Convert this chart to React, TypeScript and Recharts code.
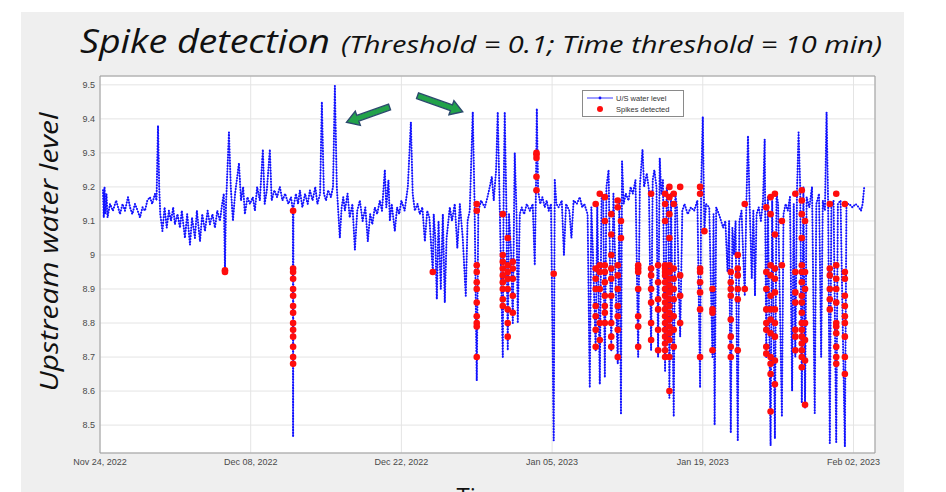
import React from "react"
import {
  ComposedChart,
  Line,
  Scatter,
  XAxis,
  YAxis,
  CartesianGrid,
  ReferenceLine,
  ReferenceArea,
  Legend,
} from "recharts"

// x = days since Nov 24, 2022 ; y = upstream water level
const LEVEL_NOV: [number, number][] = [
  [0.28, 9.19], [0.35, 9.11], [0.42, 9.2], [0.5, 9.12], [0.6, 9.18], [0.7, 9.11], [0.93, 9.15],
  [1.2, 9.13], [1.5, 9.16], [1.86, 9.12], [2.1, 9.15], [2.32, 9.13], [2.6, 9.17], [2.79, 9.14],
  [3.0, 9.12], [3.25, 9.15], [3.5, 9.13], [3.71, 9.11], [3.95, 9.14], [4.18, 9.13], [4.4, 9.16],
  [4.64, 9.17], [4.85, 9.15], [5.11, 9.18], [5.25, 9.16], [5.39, 9.38], [5.5, 9.2], [5.6, 9.12],
  [5.8, 9.07], [6.0, 9.14], [6.2, 9.08], [6.4, 9.13], [6.6, 9.1], [6.8, 9.14], [6.96, 9.09],
]

const LEVEL_DEC_A: [number, number][] = [
  [7.2, 9.12], [7.43, 9.08], [7.6, 9.13], [7.89, 9.05], [8.1, 9.12], [8.36, 9.03], [8.55, 9.11],
  [8.82, 9.05], [9.0, 9.13], [9.29, 9.04], [9.5, 9.12], [9.75, 9.07], [10.0, 9.13], [10.21, 9.09],
  [10.45, 9.12], [10.68, 9.08], [10.9, 9.13], [11.14, 9.1], [11.35, 9.15], [11.5, 9.18],
  [11.61, 8.955], [11.7, 9.14], [11.98, 9.36], [12.15, 9.2], [12.35, 9.1], [12.55, 9.18],
  [12.75, 9.23], [12.91, 9.27], [13.1, 9.16], [13.3, 9.2], [13.46, 9.12], [13.7, 9.17], [13.93, 9.15],
]

const LEVEL_DEC_B: [number, number][] = [
  [14.2, 9.17], [14.39, 9.13], [14.6, 9.2], [14.85, 9.16], [15.13, 9.31], [15.3, 9.15], [15.5, 9.19],
  [15.78, 9.31], [15.95, 9.16], [16.2, 9.19], [16.45, 9.17], [16.71, 9.2], [16.95, 9.16], [17.2, 9.18],
  [17.5, 9.15], [17.75, 9.17], [17.92, 9.13], [17.94, 8.465], [17.97, 9.14], [18.2, 9.18], [18.4, 9.15],
  [18.57, 9.19], [18.8, 9.14], [19.05, 9.18], [19.3, 9.15], [19.5, 9.19], [19.75, 9.16], [20.0, 9.2],
  [20.2, 9.15], [20.45, 9.18], [20.61, 9.45], [20.8, 9.18], [21.0, 9.16], [21.2, 9.19], [21.45, 9.17],
  [21.65, 9.2], [21.82, 9.497], [22.0, 9.2], [22.15, 9.12], [22.28, 9.05], [22.45, 9.14], [22.6, 9.17],
  [22.75, 9.13], [23.0, 9.18], [23.2, 9.11], [23.45, 9.15], [23.68, 9.015], [23.9, 9.13], [24.14, 9.16],
  [24.4, 9.1], [24.65, 9.14], [24.88, 9.04], [25.1, 9.12], [25.3, 9.09], [25.53, 9.14], [25.75, 9.12],
  [26.0, 9.16], [26.2, 9.13], [26.46, 9.25], [26.6, 9.14], [26.8, 9.22], [26.93, 9.1], [27.1, 9.15],
  [27.39, 9.07], [27.6, 9.14], [27.8, 9.12],
]

const LEVEL_DEC_C: [number, number][] = [
  [28.0, 9.16], [28.3, 9.13], [28.6, 9.2], [28.88, 9.39], [29.05, 9.18], [29.25, 9.13], [29.5, 9.15],
  [29.71, 9.12], [29.95, 9.14], [30.18, 9.04], [30.4, 9.13], [30.6, 9.11], [30.92, 8.95], [31.0, 9.12],
  [31.15, 9.05], [31.29, 8.87], [31.45, 9.1], [31.66, 8.9], [31.85, 9.12], [32.03, 8.86], [32.2, 9.05],
  [32.5, 9.14], [32.7, 9.1], [32.96, 9.15], [33.2, 9.02], [33.43, 9.15], [33.7, 9.05], [33.98, 8.88],
  [34.15, 9.1], [34.35, 9.13], [34.63, 9.42], [34.8, 9.15], [35.0, 8.63], [35.15, 9.13], [35.4, 9.16],
  [35.75, 9.14], [36.0, 9.17], [36.21, 9.2], [36.4, 9.23], [36.58, 9.16], [36.8, 9.25], [36.95, 9.42],
  [37.1, 9.2], [37.42, 8.7], [37.5, 9.18], [37.6, 9.42], [37.75, 9.15], [37.88, 8.72], [38.0, 9.12],
  [38.2, 9.0], [38.35, 8.8], [38.53, 9.3], [38.7, 9.12], [38.81, 8.8], [39.0, 9.12], [39.18, 9.14],
  [39.4, 9.12], [39.65, 9.15], [39.93, 9.13], [40.2, 9.15], [40.39, 8.97], [40.5, 9.19], [40.58, 9.43],
  [40.7, 9.19], [40.9, 9.15], [41.1, 9.17], [41.32, 9.14], [41.5, 9.16], [41.69, 9.13], [41.9, 9.15],
  [42.15, 8.455], [42.25, 9.22], [42.4, 9.15],
]

const LEVEL_JAN_A: [number, number][] = [
  [42.6, 9.14], [42.9, 9.16], [43.1, 9.0], [43.3, 9.15], [43.6, 9.13], [43.8, 9.05], [44.0, 9.16],
  [44.3, 9.15], [44.57, 9.17], [44.8, 9.14], [45.0, 9.15], [45.3, 9.12], [45.5, 8.61], [45.65, 9.14],
  [45.8, 9.0], [46.05, 8.72], [46.2, 9.15], [46.43, 8.62], [46.6, 9.18], [46.75, 9.17], [46.9, 8.64],
  [47.05, 9.2], [47.25, 9.25], [47.5, 8.72], [47.7, 9.18], [48.1, 8.68], [48.25, 9.16], [48.4, 8.535],
  [48.5, 9.275], [48.65, 9.15], [48.85, 9.18],
]

const LEVEL_JAN_B: [number, number][] = [
  [49.1, 9.16], [49.3, 9.2], [49.5, 9.18], [49.75, 9.22], [50.0, 8.7], [50.15, 9.2], [50.4, 9.31],
  [50.55, 9.2], [50.8, 9.24], [51.0, 9.19], [51.2, 8.72], [51.35, 9.22], [51.5, 9.25], [51.7, 9.2],
  [51.85, 8.7], [52.0, 9.285], [52.15, 9.18], [52.3, 9.22], [52.5, 8.66], [52.65, 9.2], [52.8, 9.14],
  [52.9, 8.58], [53.05, 9.18], [53.3, 8.525], [53.45, 9.18], [53.6, 9.14], [53.9, 8.76], [54.1, 9.13],
  [54.3, 9.15], [54.6, 9.12], [54.9, 9.14], [55.2, 9.13], [55.5, 9.16], [55.75, 8.61], [55.85, 9.2],
  [56.0, 9.406], [56.15, 9.07], [56.3, 9.15],
]

const LEVEL_JAN_C: [number, number][] = [
  [56.6, 9.14], [56.9, 8.7], [57.0, 9.12], [57.1, 8.5], [57.25, 9.14], [57.5, 9.12], [57.7, 9.1],
  [57.9, 9.08], [58.1, 9.1], [58.3, 8.95], [58.45, 9.1], [58.6, 8.477], [58.75, 9.08], [58.9, 9.0],
  [59.05, 9.1], [59.25, 8.456], [59.4, 9.1], [59.6, 9.13], [59.9, 8.88], [60.05, 9.15], [60.2, 9.35],
  [60.35, 9.15], [60.55, 8.93], [60.7, 9.13], [60.85, 8.88], [61.0, 9.12], [61.2, 9.14], [61.4, 9.1],
  [61.6, 9.16], [61.75, 9.34], [61.9, 8.7], [62.05, 9.17], [62.3, 8.44], [62.45, 9.16], [62.7, 8.46],
  [62.85, 9.18], [63.0, 9.15], [63.35, 8.525], [63.5, 9.12],
]

const LEVEL_FEB: [number, number][] = [
  [63.7, 9.15], [63.9, 9.13], [64.1, 9.17], [64.3, 8.6], [64.45, 9.15], [64.6, 8.7], [64.75, 9.18],
  [64.9, 9.36], [65.05, 9.2], [65.2, 8.565], [65.35, 9.2], [65.5, 8.55], [65.65, 9.17], [65.9, 9.14],
  [66.15, 9.2], [66.4, 8.535], [66.55, 9.15], [66.8, 9.18], [67.0, 8.7], [67.15, 9.16], [67.35, 9.13],
  [67.5, 9.42], [67.65, 9.14], [67.8, 8.447], [67.95, 9.14], [68.15, 9.16], [68.4, 8.45], [68.55, 9.15],
  [68.8, 9.16], [69.2, 8.436], [69.35, 9.15], [69.6, 9.15], [69.9, 9.14], [70.2, 9.15], [70.5, 9.14],
  [70.7, 9.13], [70.85, 9.15], [71.0, 9.2],
]

// detected spikes: [day, levels detected at that excursion]
const SPIKE_COLUMNS: [number, number[]][] = [
  [11.61, [8.955, 8.95]],
  [17.94, [9.13, 8.96, 8.95, 8.93, 8.9, 8.88, 8.85, 8.83, 8.8, 8.78, 8.76, 8.73, 8.7, 8.68]],
  [30.92, [8.95]],
  [35.0, [9.15, 9.13, 8.97, 8.95, 8.92, 8.9, 8.86, 8.82, 8.8, 8.79, 8.7]],
  [37.42, [9.12, 9.0, 8.98, 8.96, 8.94, 8.92, 8.9, 8.87, 8.85]],
  [37.88, [9.05, 8.97, 8.95, 8.93, 8.9, 8.84, 8.8, 8.76]],
  [38.35, [8.98, 8.96, 8.93, 8.88, 8.83]],
  [40.55, [9.3, 9.295, 9.285, 9.23, 9.19]],
  [42.15, [8.945]],
  [46.05, [9.15, 8.96, 8.93, 8.9, 8.85, 8.82, 8.78, 8.73]],
  [46.43, [9.18, 8.97, 8.95, 8.9, 8.8, 8.75]],
  [46.9, [9.17, 9.1, 8.97, 8.95, 8.92, 8.88, 8.85, 8.83, 8.8]],
  [47.5, [9.12, 9.06, 9.0, 8.96, 8.93, 8.88, 8.8, 8.76, 8.73]],
  [48.1, [9.16, 9.14, 8.97, 8.94, 8.9, 8.85, 8.82, 8.78, 8.7]],
  [48.4, [9.1, 9.05]],
  [50.0, [8.97, 8.96, 8.95, 8.9, 8.82, 8.79, 8.73]],
  [51.2, [9.18, 8.96, 8.94, 8.9, 8.86, 8.8, 8.75]],
  [51.85, [8.97, 8.92, 8.87, 8.84, 8.78, 8.72]],
  [52.5, [9.18, 9.15, 9.1, 8.97, 8.96, 8.95, 8.94, 8.92, 8.9, 8.88, 8.86, 8.84, 8.82, 8.8, 8.78, 8.76, 8.74, 8.72, 8.7]],
  [52.9, [9.2, 9.17, 9.12, 9.05, 8.97, 8.95, 8.93, 8.91, 8.89, 8.87, 8.85, 8.83, 8.81, 8.79, 8.77, 8.75, 8.7, 8.6]],
  [53.3, [9.18, 9.15, 8.96, 8.93, 8.9, 8.87, 8.82, 8.78, 8.73]],
  [53.9, [9.2, 8.94, 8.88, 8.8]],
  [55.75, [9.2, 9.18, 8.96, 8.95, 8.92, 8.89, 8.84, 8.7]],
  [56.15, [9.07]],
  [56.9, [8.9, 8.84, 8.83, 8.72]],
  [58.6, [8.95, 8.92, 8.9, 8.88, 8.81, 8.76, 8.73, 8.7]],
  [59.25, [9.0, 8.96, 8.94, 8.9, 8.87, 8.72]],
  [59.9, [9.15, 8.9]],
  [61.9, [9.14, 8.95, 8.9, 8.84, 8.8, 8.78, 8.73, 8.71]],
  [62.3, [9.17, 9.12, 8.97, 8.94, 8.88, 8.84, 8.81, 8.77, 8.7, 8.68, 8.65, 8.54]],
  [62.7, [9.18, 9.06, 8.96, 8.93, 8.89, 8.84, 8.8, 8.76, 8.69, 8.62]],
  [63.35, [9.1, 8.97]],
  [64.6, [9.18, 8.95, 8.89, 8.86, 8.78, 8.76, 8.72]],
  [65.2, [9.19, 9.16, 9.12, 9.05, 8.97, 8.95, 8.92, 8.88, 8.86, 8.83, 8.8, 8.78, 8.76, 8.74, 8.72, 8.7, 8.67]],
  [65.5, [9.1, 8.95, 8.9, 8.8, 8.75, 8.69, 8.56]],
  [67.8, [9.15, 8.96, 8.94, 8.9, 8.87, 8.84]],
  [68.4, [9.18, 8.97, 8.93, 8.9, 8.86, 8.8, 8.79, 8.77, 8.73, 8.7, 8.68]],
  [69.2, [9.15, 8.95, 8.93, 8.88, 8.85, 8.82, 8.8, 8.76, 8.7, 8.65]],
]

const X_TICKS = [0, 14, 28, 42, 56, 70]
const Y_TICKS = [8.5, 8.6, 8.7, 8.8, 8.9, 9, 9.1, 9.2, 9.3, 9.4, 9.5]
const X_DOMAIN: [number, number] = [0, 72]
const Y_DOMAIN: [number, number] = [8.418, 9.526]
const MONTHS = ["Jan", "Feb", "Mar", "Apr", "May", "Jun", "Jul", "Aug", "Sep", "Oct", "Nov", "Dec"]
const START = Date.UTC(2022, 10, 24)

// green callout arrows (tail -> head, in data coordinates)
const ARROWS = [
  { from: { x: 26.9, y: 9.435 }, to: { x: 22.9, y: 9.39 } },
  { from: { x: 29.5, y: 9.468 }, to: { x: 33.7, y: 9.421 } },
]

const level = [
  ...LEVEL_NOV, ...LEVEL_DEC_A, ...LEVEL_DEC_B, ...LEVEL_DEC_C,
  ...LEVEL_JAN_A, ...LEVEL_JAN_B, ...LEVEL_JAN_C, ...LEVEL_FEB,
].map(([t, v]) => ({ t, v }))

const spikes = SPIKE_COLUMNS.flatMap(([t, vals]) => vals.map((v) => ({ t, v })))

const fmtDate = (d: number) => {
  const dt = new Date(START + d * 86400000)
  const day = String(dt.getUTCDate()).padStart(2, "0")
  return `${MONTHS[dt.getUTCMonth()]} ${day}, ${dt.getUTCFullYear()}`
}

const tickStyle = { fill: "#4a4a4a", fontSize: 9, fontFamily: "Liberation Sans, Arial, sans-serif" }

function Arrow(props: any) {
  const { x1, y1, x2, y2 } = props
  const dx = x2 - x1
  const dy = y2 - y1
  const len = Math.hypot(dx, dy) || 1
  const ux = dx / len
  const uy = dy / len
  const nx = -uy
  const ny = ux
  const hl = 12
  const sw = 3
  const hw = 7.5
  const bx = x1 + ux * (len - hl)
  const by = y1 + uy * (len - hl)
  const pts = [
    [x1 + nx * sw, y1 + ny * sw],
    [bx + nx * sw, by + ny * sw],
    [bx + nx * hw, by + ny * hw],
    [x2, y2],
    [bx - nx * hw, by - ny * hw],
    [bx - nx * sw, by - ny * sw],
    [x1 - nx * sw, y1 - ny * sw],
  ]
  return (
    <polygon
      points={pts.map((p) => p.join(",")).join(" ")}
      fill="#22a24a"
      stroke="#2c4a6e"
      strokeWidth={1.4}
    />
  )
}

function RedDot(props: any) {
  if (props.cx == null || props.cy == null) return null
  return <circle cx={props.cx} cy={props.cy} r={3.3} fill="#ff0d0d" />
}

function LegendBox() {
  const font = { fontFamily: "Liberation Sans, Arial, sans-serif", fontSize: 7.5, fill: "#333" }
  return (
    <svg width={102} height={27}>
      <rect x={0.5} y={0.5} width={101} height={26} fill="#fff" stroke="#8a8a8a" />
      <line x1={5} y1={8} x2={31} y2={8} stroke="#3a3aff" strokeWidth={1} />
      <circle cx={18} cy={8} r={1.4} fill="#1414ff" />
      <text x={34} y={10.5} {...font}>U/S water level</text>
      <circle cx={18} cy={19} r={3} fill="#ff0d0d" />
      <text x={34} y={21.5} {...font}>Spikes detected</text>
    </svg>
  )
}

export default function App() {
  return (
    <div style={{ position: "absolute", left: 0, top: 0, width: 946, height: 492, background: "#fff", overflow: "hidden" }}>
      <div style={{ position: "absolute", left: 21, top: 12, width: 883, height: 480, background: "#efefef" }} />
      <div style={{ position: "absolute", left: 0, top: 0 }}>
        <ComposedChart
          width={946}
          height={492}
          data={level}
          margin={{ top: 76, right: 71, bottom: 9, left: 60 }}
        >
          <CartesianGrid stroke="#e4e4e4" fill="#ffffff" fillOpacity={1} />
          <XAxis
            dataKey="t"
            type="number"
            domain={X_DOMAIN}
            ticks={X_TICKS}
            allowDataOverflow
            axisLine={false}
            tickLine={false}
            tickSize={0}
            tickMargin={6}
            height={30}
            tick={tickStyle}
            tickFormatter={fmtDate}
          />
          <YAxis
            dataKey="v"
            type="number"
            domain={Y_DOMAIN}
            ticks={Y_TICKS}
            allowDataOverflow
            axisLine={false}
            tickLine={false}
            tickSize={0}
            tickMargin={5}
            width={40}
            tick={tickStyle}
            tickFormatter={(v: number) => String(Number(v.toFixed(1)))}
          />
          <ReferenceArea
            x1={X_DOMAIN[0]}
            x2={X_DOMAIN[1]}
            y1={Y_DOMAIN[0]}
            y2={Y_DOMAIN[1]}
            fill="none"
            stroke="#9c9c9c"
            strokeWidth={1}
          />
          <Line
            dataKey="v"
            type="linear"
            stroke="#4b4bff"
            strokeWidth={0.7}
            dot={false}
            activeDot={false}
            legendType="none"
            isAnimationActive={false}
          />
          <Line
            dataKey="v"
            type="linear"
            stroke="#1010ff"
            strokeWidth={2.1}
            strokeDasharray="0 2.8"
            strokeLinecap="round"
            dot={false}
            activeDot={false}
            name="U/S water level"
            isAnimationActive={false}
          />
          <Scatter data={spikes} dataKey="v" shape={RedDot} name="Spikes detected" isAnimationActive={false} />
          {ARROWS.map((a, i) => (
            <ReferenceLine key={i} segment={[a.from, a.to]} shape={Arrow} />
          ))}
          <Legend
            layout="horizontal"
            verticalAlign="middle"
            align="center"
            wrapperStyle={{ left: 582, top: 90, width: 102, height: 27 }}
            content={() => <LegendBox />}
          />
        </ComposedChart>
      </div>
      <svg width={946} height={492} style={{ position: "absolute", left: 0, top: 0, pointerEvents: "none" }}>
        <text
          x={80}
          y={53}
          fontFamily="Open Sans, sans-serif"
          fontStyle="italic"
          fontSize={32}
          fill="#111"
          textLength={250}
          lengthAdjust="spacingAndGlyphs"
        >
          Spike detection
        </text>
        <text
          x={341}
          y={53}
          fontFamily="Open Sans, sans-serif"
          fontStyle="italic"
          fontSize={23}
          fill="#111"
          textLength={541}
          lengthAdjust="spacingAndGlyphs"
        >
          (Threshold = 0.1; Time threshold = 10 min)
        </text>
        <text
          transform="translate(58 252) rotate(-90)"
          textAnchor="middle"
          fontFamily="Open Sans, sans-serif"
          fontStyle="italic"
          fontSize={25}
          fill="#111"
          textLength={279}
          lengthAdjust="spacingAndGlyphs"
        >
          Upstream water level
        </text>
        <text x={484} y={505} textAnchor="middle" fontFamily="Open Sans, sans-serif" fontSize={24} fill="#111">
          Time
        </text>
      </svg>
    </div>
  )
}
